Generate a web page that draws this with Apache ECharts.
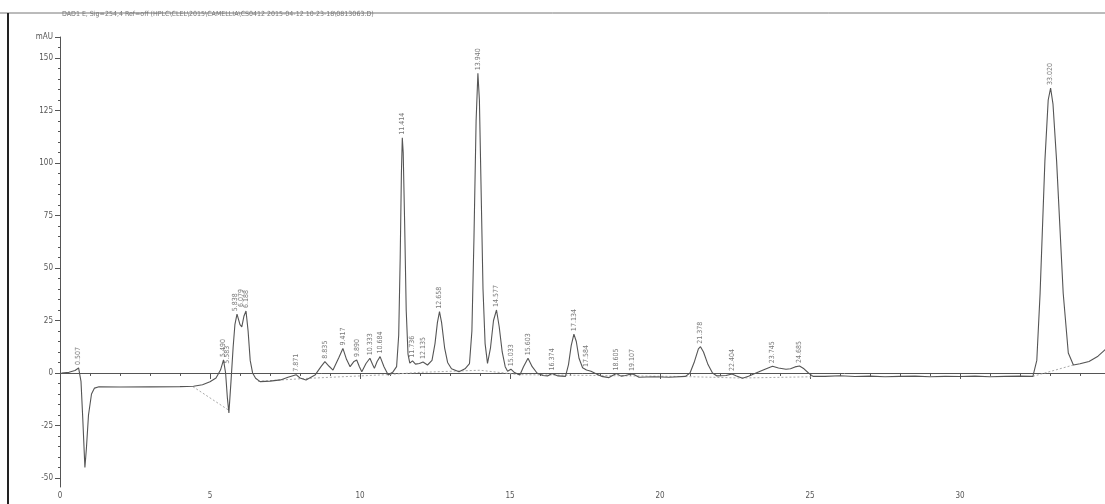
<!DOCTYPE html>
<html>
<head>
<meta charset="utf-8">
<script src="https://cdn.jsdelivr.net/npm/echarts@6/dist/echarts.min.js"></script>
<style>
html,body{margin:0;padding:0;background:#fff;}
#c{width:1105px;height:504px;}
</style>
</head>
<body>
<div id="c"></div>
<script>
// Signal trace (retention time in min, absorbance in mAU)
const times = [0.05,0.3,0.5,0.62,0.7,0.76,0.83,0.88,0.95,1.05,1.15,1.3,2.0,3.0,4.0,4.45,4.75,5.0,5.2,5.35,5.45,5.52,5.58,5.63,5.7,5.77,5.83,5.9,6.0,6.06,6.13,6.2,6.27,6.34,6.42,6.52,6.67,7.0,7.35,7.6,7.87,8.0,8.2,8.5,8.7,8.83,8.97,9.1,9.3,9.43,9.55,9.67,9.8,9.89,9.98,10.06,10.2,10.33,10.42,10.48,10.57,10.67,10.8,10.94,11.1,11.22,11.29,11.34,11.38,11.41,11.44,11.49,11.54,11.6,11.66,11.75,11.85,11.98,12.1,12.25,12.4,12.5,12.58,12.65,12.72,12.82,12.92,13.05,13.3,13.5,13.65,13.73,13.8,13.87,13.93,13.98,14.04,14.1,14.17,14.25,14.35,14.45,14.55,14.64,14.74,14.84,14.92,15.03,15.15,15.33,15.45,15.6,15.74,15.9,16.1,16.25,16.4,16.6,16.85,16.95,17.04,17.13,17.21,17.3,17.42,17.55,17.7,17.9,18.05,18.3,18.45,18.55,18.7,18.85,19.0,19.1,19.3,19.8,20.3,20.85,21.0,21.15,21.28,21.35,21.45,21.6,21.75,21.9,22.2,22.4,22.55,22.75,22.95,23.2,23.5,23.75,23.95,24.2,24.35,24.5,24.65,24.8,24.95,25.1,25.5,26.0,26.5,27.0,27.5,28.0,28.5,29.0,29.5,30.0,30.5,31.0,31.5,32.0,32.43,32.56,32.67,32.83,32.94,33.02,33.1,33.22,33.44,33.61,33.78,34.0,34.3,34.6,34.83,35.0];
const signal = [0,0.3,1.2,2.4,-4,-22,-45,-36,-20,-10,-7.2,-6.6,-6.7,-6.6,-6.5,-6.3,-5.6,-4.2,-2.4,1.4,6.2,0,-12,-19,-4,12,23,28,23,22,27,29.5,20,6,0,-2.5,-4.1,-3.9,-3.3,-2,-0.8,-2.4,-3.3,-1,3,5.4,3.2,1.4,7.5,11.7,6.5,3,5.5,6.2,3,0.6,4.5,7,4,2.2,5.5,7.8,3,-1,0.5,3,18,55,95,112,105,70,30,9,4.7,5.8,4.2,4.5,5.2,3.8,6,14,24,29.2,24,12,5,2,0.6,2,4.5,20,65,120,142.7,130,85,40,14,4.6,12,25,30,22,10,3,0.8,1.8,0.2,-1,3,7,3,0,-1.2,-1.4,-0.2,-1.4,-1.6,4,13,18.5,15,7,2.5,1.4,0.8,-0.6,-1.6,-2.2,-1,-0.3,-1.5,-1.2,-0.6,-0.5,-2,-1.8,-2,-1.6,0,5.5,11.5,12.5,10,4,0,-1.4,-1.2,-0.5,-1.4,-2.5,-1.6,0,1.8,3.2,2.4,1.8,2,2.9,3.3,2,0,-1.6,-1.6,-1.3,-1.7,-1.5,-1.8,-1.6,-1.5,-1.8,-1.6,-1.7,-1.5,-1.8,-1.6,-1.5,-1.6,6,38,101,130,135.7,128,101,38,9.5,3.8,4.4,5.5,8,11,12];

// Integration baselines
const base1T = [4.43,5.6];
const base1V = [-6.5,-17.5];
const base2T = [6.6,8.2,10.9,12.0,14.0,15.3,17.9,20.8,22.7,25.1];
const base2V = [-4,-2.6,-0.8,0.3,1.3,-0.8,-1.2,-1.7,-2.4,-1.8];
const base3T = [32.43,33.78];
const base3V = [-1.6,3.8];

// Peak annotations
const peakTimes  = [0.62,5.45,5.58,5.85,6.05,6.2,7.87,8.83,9.43,9.89,10.33,10.67,11.41,11.75,12.1,12.65,13.93,14.55,15.03,15.6,16.4,17.13,17.55,18.55,19.07,21.35,22.4,23.75,24.65,33.02];
const peakHeights= [2.4,6.2,3,28,30,29.5,-0.8,5.4,11.7,6.2,7,7.8,112,5.8,5.2,29.2,142.7,30,1.8,7,-0.2,18.5,1.4,-0.3,-0.5,12.5,-0.5,3.2,3.3,135.7];
const peakLabels = ['0.507','5.490','5.583','5.838','6.079','6.188','7.871','8.835','9.417','9.890','10.333','10.684','11.414','11.736','12.135','12.658','13.940','14.577','15.033','15.603','16.374','17.134','17.584','18.605','19.107','21.378','22.404','23.745','24.685','33.020'];

// Axis ticks
const yMajorTicks = [-50,-25,0,25,50,75,100,125,150,160];
const yMinorTicks = [];
for (let v = -50; v <= 155; v += 5) yMinorTicks.push(v);
const titleText = 'DAD1 E, Sig=254,4 Ref=off (HPLC\\CLEL\\2015\\CAMELLIA\\CS0412 2015-04-12 10-23-18\\0813063.D)';

const zip = (a, b) => a.map((x, i) => [x, b[i]]);
const axisColor = '#555';
const fontFam = '"DejaVu Sans Condensed", "Liberation Sans", sans-serif';
const chart = echarts.init(document.getElementById('c'), null, {renderer: 'canvas'});

chart.setOption({
  animation: false,
  backgroundColor: '#fff',
  grid: {left: 60, right: -5, top: 37, bottom: 17, containLabel: false, outerBoundsMode: 'none'},
  xAxis: {
    type: 'value', min: 0, max: 35, interval: 5,
    axisLine: {lineStyle: {color: axisColor, width: 1}},
    axisTick: {show: true, length: 6, lineStyle: {color: axisColor}},
    minorTick: {show: true, splitNumber: 5, length: 3, lineStyle: {color: axisColor}},
    axisLabel: {color: '#555', fontSize: 8, margin: 5, fontFamily: fontFam},
    splitLine: {show: false}
  },
  yAxis: [{
    type: 'value', min: -54.3, max: 160,
    axisLine: {show: true, lineStyle: {color: axisColor, width: 1}},
    axisTick: {show: true, length: 5, customValues: yMajorTicks, lineStyle: {color: axisColor}},
    axisLabel: {color: '#555', fontSize: 8, margin: 7, fontFamily: fontFam,
      customValues: yMajorTicks, formatter: v => v === 160 ? 'mAU' : String(v)},
    splitLine: {show: false}
  }, {
    type: 'value', min: -54.3, max: 160, position: 'left',
    axisLine: {show: false},
    axisTick: {show: true, length: 2, customValues: yMinorTicks, lineStyle: {color: axisColor}},
    axisLabel: {show: false},
    splitLine: {show: false}
  }],
  series: [
    {type: 'line', data: zip(times, signal), showSymbol: false, symbol: 'none',
      lineStyle: {color: '#555', width: 1.1}, z: 3},
    {type: 'line', data: zip(base1T, base1V), symbol: 'none',
      lineStyle: {color: '#aaa', width: 1, type: [2, 2]}, z: 2},
    {type: 'line', data: zip(base2T, base2V), symbol: 'none',
      lineStyle: {color: '#aaa', width: 1, type: [2, 2]}, z: 2},
    {type: 'line', data: zip(base3T, base3V), symbol: 'none',
      lineStyle: {color: '#aaa', width: 1, type: [2, 2]}, z: 2},
    {type: 'scatter', symbolSize: 0, z: 4,
      data: peakTimes.map((t, i) => ({value: [t, peakHeights[i]], name: peakLabels[i]})),
      label: {show: true, formatter: p => p.name, rotate: 90, position: 'top', distance: 3,
        align: 'left', verticalAlign: 'middle', fontSize: 7, color: '#555', fontFamily: fontFam}}
  ],
  graphic: [
    {type: 'line', shape: {x1: 0, y1: 13, x2: 1105, y2: 13}, style: {stroke: '#777', lineWidth: 1}},
    {type: 'line', shape: {x1: 8, y1: 13, x2: 8, y2: 504}, style: {stroke: '#222', lineWidth: 2}},
    {type: 'text', left: 62, top: 11, style: {text: titleText, fontSize: 7, fill: '#777', fontFamily: fontFam}}
  ]
});
</script>
</body>
</html>
